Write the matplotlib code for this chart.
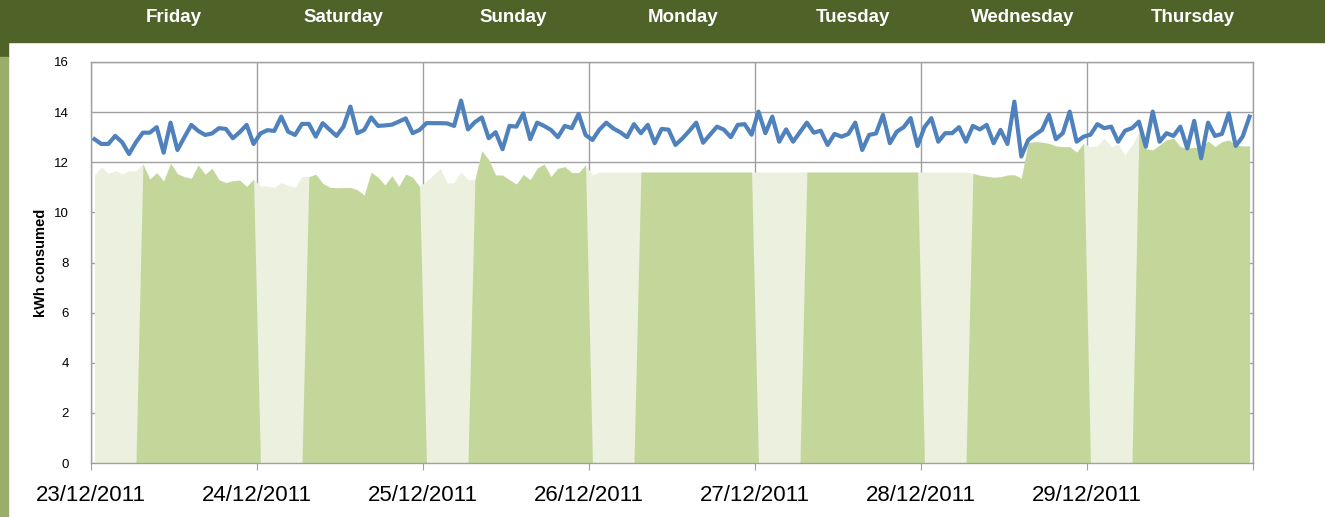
import numpy as np
import matplotlib
matplotlib.use("Agg")
import matplotlib.pyplot as plt
from matplotlib.patches import Rectangle

# ── data: hourly kWh, one list per day ─────────────────────────────────────
DAYS = ["Friday", "Saturday", "Sunday", "Monday", "Tuesday", "Wednesday", "Thursday"]
DATES = ["23/12/2011", "24/12/2011", "25/12/2011", "26/12/2011",
         "27/12/2011", "28/12/2011", "29/12/2011"]

line_fri = [12.92, 12.73, 12.73, 13.05, 12.80, 12.33, 12.80, 13.18, 13.18, 13.40, 12.38, 13.58,
            12.49, 13.00, 13.49, 13.25, 13.09, 13.15, 13.36, 13.33, 12.96, 13.20, 13.49, 12.73]
line_sat = [13.15, 13.28, 13.25, 13.82, 13.22, 13.09, 13.53, 13.53, 13.02, 13.56, 13.30, 13.05,
            13.42, 14.22, 13.16, 13.29, 13.79, 13.45, 13.47, 13.50, 13.62, 13.75, 13.16, 13.29]
line_sun = [13.56, 13.56, 13.56, 13.55, 13.45, 14.46, 13.31, 13.60, 13.79, 12.96, 13.20, 12.52,
            13.45, 13.42, 13.95, 12.92, 13.58, 13.45, 13.29, 13.00, 13.45, 13.36, 13.93, 13.09]
line_mon = [12.89, 13.30, 13.58, 13.35, 13.20, 13.00, 13.52, 13.16, 13.49, 12.76, 13.33, 13.30,
            12.69, 12.95, 13.25, 13.58, 12.78, 13.10, 13.42, 13.30, 13.00, 13.49, 13.52, 13.10]
line_tue = [14.02, 13.16, 13.82, 12.82, 13.31, 12.82, 13.20, 13.58, 13.18, 13.26, 12.69, 13.13,
            13.02, 13.13, 13.58, 12.49, 13.09, 13.15, 13.89, 12.76, 13.22, 13.40, 13.76, 12.65]
line_wed = [13.40, 13.76, 12.82, 13.16, 13.16, 13.40, 12.82, 13.45, 13.31, 13.49, 12.76, 13.29,
            12.73, 14.42, 12.23, 12.89, 13.10, 13.29, 13.89, 12.92, 13.16, 14.02, 12.82, 13.02]
line_thu = [13.10, 13.52, 13.36, 13.42, 12.82, 13.26, 13.36, 13.62, 12.62, 14.02, 12.82, 13.16,
            13.05, 13.42, 12.55, 13.65, 12.16, 13.58, 13.05, 13.13, 13.95, 12.65, 13.02, 13.82]

area_fri = [11.49, 11.82, 11.56, 11.66, 11.53, 11.66, 11.66, 11.93, 11.33, 11.58, 11.25, 11.96,
            11.54, 11.42, 11.36, 11.89, 11.52, 11.76, 11.30, 11.19, 11.26, 11.29, 11.03, 11.32]
area_sat = [11.05, 11.05, 11.00, 11.19, 11.08, 11.00, 11.44, 11.42, 11.52, 11.16, 11.00, 10.98,
            10.99, 10.99, 10.90, 10.69, 11.60, 11.40, 11.09, 11.46, 11.03, 11.53, 11.40, 11.03]
area_sun = [11.25, 11.50, 11.76, 11.16, 11.20, 11.62, 11.30, 11.30, 12.46, 12.10, 11.49, 11.49,
            11.30, 11.13, 11.51, 11.30, 11.76, 11.93, 11.43, 11.76, 11.82, 11.59, 11.59, 11.89]
area_mon = [11.50, 11.61, 11.61, 11.61, 11.61, 11.61, 11.61, 11.61, 11.61, 11.61, 11.61, 11.61,
            11.61, 11.61, 11.61, 11.61, 11.61, 11.61, 11.61, 11.61, 11.61, 11.61, 11.61, 11.61]
area_tue = [11.61, 11.61, 11.61, 11.61, 11.61, 11.61, 11.61, 11.61, 11.61, 11.61, 11.61, 11.61,
            11.61, 11.61, 11.61, 11.61, 11.61, 11.61, 11.61, 11.61, 11.61, 11.61, 11.61, 11.61]
area_wed = [11.61, 11.61, 11.61, 11.61, 11.61, 11.61, 11.61, 11.56, 11.48, 11.44, 11.40, 11.42,
            11.49, 11.50, 11.36, 12.78, 12.82, 12.80, 12.75, 12.65, 12.62, 12.62, 12.40, 12.76]
area_thu = [12.62, 12.65, 12.96, 12.62, 12.72, 12.29, 12.69, 13.20, 12.55, 12.49, 12.69, 12.89,
            12.96, 12.62, 12.55, 12.60, 12.55, 12.85, 12.62, 12.82, 12.89, 12.69, 12.65, 12.65]

OFFPEAK_HOURS = 7   # first hours of each day on the cheap tariff

line_kwh = np.array(line_fri + line_sat + line_sun + line_mon + line_tue + line_wed + line_thu)
area_kwh = np.array(area_fri + area_sat + area_sun + area_mon + area_tue + area_wed + area_thu)

# ── style ──────────────────────────────────────────────────────────────────
BAND = "#4f6228"
SIDE = "#9aae6a"
LIGHT = "#ebf1de"
DARK = "#c4d79b"
BLUE = "#4f81bd"
GRID = "#a0a0a0"
plt.rcParams["font.family"] = ["Liberation Sans", "DejaVu Sans"]

W, H = 1325, 517
fig = plt.figure(figsize=(W / 100, H / 100), dpi=100)
fig.patch.set_facecolor("white")

# header band and side strip
fig.patches.append(Rectangle((0, 1 - 42 / H), 1, 42 / H, transform=fig.transFigure,
                             color=BAND, zorder=0))
fig.patches.append(Rectangle((0, 1 - 57 / H), 8 / W, 15 / H, transform=fig.transFigure,
                             color=BAND, zorder=0))
fig.patches.append(Rectangle((0, 0), 8 / W, 1 - 57 / H, transform=fig.transFigure,
                             color=SIDE, zorder=0))

for k, name in enumerate(DAYS):
    fig.text((174 + 169.75 * k) / W, 1 - 22.5 / H, name, color="white",
             fontsize=13.5, fontweight="bold", ha="center", va="baseline")

ax = fig.add_axes([91 / W, (H - 463) / H, 1162 / W, 401 / H])
ax.set_facecolor("white")

hours = np.arange(len(line_kwh))
x = hours + 0.5
peak = (hours % 24) >= OFFPEAK_HOURS

ax.fill_between(x, 0, area_kwh, color=LIGHT, lw=0, zorder=1)
ax.fill_between(x, 0, np.where(peak, area_kwh, 0), color=DARK, lw=0, zorder=2)
ax.plot(x, line_kwh, color=BLUE, lw=3.0, solid_joinstyle="round", zorder=3)

ax.set_xlim(0, len(line_kwh))
ax.set_ylim(0, 16)
ax.set_yticks(np.arange(0, 17, 2))
ax.set_xticks(np.arange(0, len(line_kwh) + 1, 24))
ax.set_xticklabels(DATES + [""])
ax.set_axisbelow(True)
ax.grid(True, color=GRID, lw=1.0)

for s in ax.spines.values():
    s.set_color(GRID)
    s.set_linewidth(1.0)

ax.tick_params(axis="x", direction="out", length=5, color=GRID, pad=11, labelsize=16)
ax.tick_params(axis="y", length=0, pad=16, labelsize=9.5)
fig.text(41 / W, 1 - 263 / H, "kWh consumed", rotation=90, fontsize=10.5,
         fontweight="bold", ha="center", va="center")

fig.savefig("out.png", dpi=100)
